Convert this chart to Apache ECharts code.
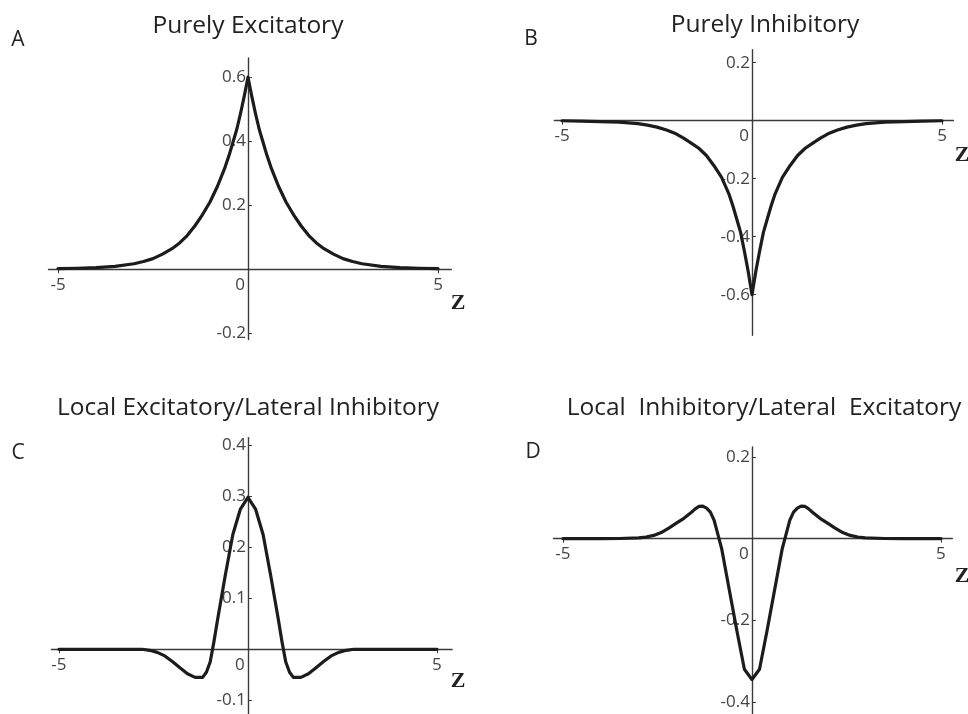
<!DOCTYPE html>
<html><head><meta charset="utf-8">
<script src="https://cdn.jsdelivr.net/npm/echarts@6/dist/echarts.min.js"></script>
<style>html,body{margin:0;padding:0;background:#fff}#c{width:968px;height:714px}</style>
</head><body><div id="c"></div>
<script>
// ---- Data ----
const xA = [-5,-4.5,-4,-3.5,-3,-2.75,-2.5,-2.25,-2,-1.8,-1.6,-1.4,-1.2,-1,-0.8,-0.6,-0.5,-0.4,-0.3,-0.2,-0.1,0,0.1,0.2,0.3,0.4,0.5,0.6,0.8,1,1.2,1.4,1.6,1.8,2,2.25,2.5,2.75,3,3.5,4,4.5,5];
const yA = [0.002,0.003,0.005,0.009,0.017,0.024,0.033,0.047,0.064,0.082,0.105,0.135,0.17,0.21,0.26,0.32,0.355,0.395,0.435,0.485,0.54,0.6,0.54,0.485,0.435,0.395,0.355,0.32,0.26,0.21,0.17,0.135,0.105,0.082,0.064,0.047,0.033,0.024,0.017,0.009,0.005,0.003,0.002];

const xB = [-5,-4.5,-4,-3.5,-3,-2.75,-2.5,-2.25,-2,-1.8,-1.6,-1.4,-1.2,-1,-0.8,-0.6,-0.5,-0.4,-0.3,-0.2,-0.1,0,0.1,0.2,0.3,0.4,0.5,0.6,0.8,1,1.2,1.4,1.6,1.8,2,2.25,2.5,2.75,3,3.5,4,4.5,5];
const yB = [0,-0.001,-0.003,-0.005,-0.01,-0.015,-0.022,-0.032,-0.045,-0.06,-0.077,-0.095,-0.12,-0.155,-0.195,-0.255,-0.295,-0.34,-0.385,-0.45,-0.52,-0.6,-0.52,-0.45,-0.385,-0.34,-0.295,-0.255,-0.195,-0.155,-0.12,-0.095,-0.077,-0.06,-0.045,-0.032,-0.022,-0.015,-0.01,-0.005,-0.003,-0.001,0];

const xC = [-5,-4,-3,-2.8,-2.6,-2.4,-2.2,-2,-1.8,-1.6,-1.4,-1.2,-1.1,-1,-0.9,-0.8,-0.6,-0.4,-0.2,0,0.2,0.4,0.6,0.8,0.9,1,1.1,1.2,1.4,1.6,1.8,2,2.2,2.4,2.6,2.8,3,4,5];
const yC = [0,0,0,0,-0.002,-0.006,-0.013,-0.024,-0.036,-0.048,-0.055,-0.055,-0.045,-0.025,0.015,0.06,0.145,0.225,0.275,0.298,0.275,0.225,0.145,0.06,0.015,-0.025,-0.045,-0.055,-0.055,-0.048,-0.036,-0.024,-0.013,-0.006,-0.002,0,0,0,0];

const xD = [-5,-4,-3.5,-3,-2.8,-2.6,-2.4,-2.2,-2,-1.8,-1.6,-1.5,-1.4,-1.3,-1.2,-1.1,-1,-0.9,-0.8,-0.6,-0.4,-0.2,0,0.2,0.4,0.6,0.8,0.9,1,1.1,1.2,1.3,1.4,1.5,1.6,1.8,2,2.2,2.4,2.6,2.8,3,3.5,4,5];
const yD = [0,0,0.0005,0.002,0.004,0.008,0.015,0.026,0.038,0.05,0.065,0.073,0.079,0.08,0.075,0.065,0.045,0.01,-0.025,-0.125,-0.225,-0.32,-0.345,-0.32,-0.225,-0.125,-0.025,0.01,0.045,0.065,0.075,0.08,0.079,0.073,0.065,0.05,0.038,0.026,0.015,0.008,0.004,0.002,0.0005,0,0];

const xTicks = [-5, 0, 5];
const yTicksA = [-0.2, 0.2, 0.4, 0.6];
const yTicksB = [0.2, -0.2, -0.4, -0.6];
const yTicksC = [-0.1, 0.1, 0.2, 0.3, 0.4];
const yTicksD = [0.2, -0.2, -0.4];

const titles = ['Purely Excitatory', 'Purely Inhibitory', 'Local Excitatory/Lateral Inhibitory', 'Local  Inhibitory/Lateral  Excitatory'];
const letters = ['A', 'B', 'C', 'D'];
const axisName = 'Z';

// ---- Layout ----
const FONT = '"Open Sans", sans-serif';
const AX = '#3a3a3a';
const LBL = '#444';
const panels = [
  {x: xA, y: yA, yt: yTicksA, xmin: -5.25, xmax: 5.35, ymin: -0.22, ymax: 0.66, grid: {left: 48.5, top: 58, width: 402.8, height: 281.6}},
  {x: xB, y: yB, yt: yTicksB, xmin: -5.2, xmax: 5.3, ymin: -0.74, ymax: 0.245, grid: {left: 554.4, top: 49.7, width: 399, height: 285.6}},
  {x: xC, y: yC, yt: yTicksC, xmin: -5.2, xmax: 5.4, ymin: -0.13, ymax: 0.415, grid: {left: 51.4, top: 437.6, width: 400.7, height: 278}},
  {x: xD, y: yD, yt: yTicksD, xmin: -5.25, xmax: 5.3, ymin: -0.43, ymax: 0.225, grid: {left: 553.5, top: 446.9, width: 398.8, height: 267.2}}
];
// offsets that put each axis on the other axis' zero
panels.forEach(p => {
  const g = p.grid;
  p.yOff = -(-p.xmin) * g.width / (p.xmax - p.xmin);
  p.xOff = -(-p.ymin) * g.height / (p.ymax - p.ymin);
});

const fmt = v => String(Math.round(v * 10) / 10);
const option = {
  animation: false,
  backgroundColor: '#fff',
  grid: panels.map(p => Object.assign({outerBoundsMode: 'none', containLabel: false}, p.grid)),
  xAxis: panels.map((p, i) => ({
    type: 'value', gridIndex: i, min: p.xmin, max: p.xmax,
    position: 'bottom', offset: p.xOff,
    splitLine: {show: false},
    axisLine: {onZero: false, lineStyle: {color: AX, width: 1.4}},
    axisTick: {show: true, customValues: [-5, 5], length: 4, lineStyle: {color: AX}},
    axisLabel: {
      customValues: xTicks, margin: 7, color: LBL, fontFamily: FONT, fontSize: 17,
      formatter: v => (v === 0 ? '{z|0}' : fmt(v)),
      rich: {z: {padding: [0, 16, 0, 0], color: LBL, fontFamily: FONT, fontSize: 17}}
    }
  })),
  yAxis: panels.map((p, i) => ({
    type: 'value', gridIndex: i, min: p.ymin, max: p.ymax,
    position: 'left', offset: p.yOff,
    splitLine: {show: false},
    axisLine: {onZero: false, lineStyle: {color: AX, width: 1.4}},
    axisTick: {show: true, inside: true, customValues: p.yt, length: 4, lineStyle: {color: AX}},
    axisLabel: {customValues: p.yt, margin: 2, color: LBL, fontFamily: FONT, fontSize: 17, formatter: fmt}
  })),
  series: panels.map((p, i) => ({
    type: 'line', xAxisIndex: i, yAxisIndex: i,
    data: p.x.map((xv, k) => [xv, p.y[k]]),
    showSymbol: false, smooth: false,
    lineStyle: {color: '#1c1c1c', width: 3.2, join: 'round', cap: 'round'}
  })),
  graphic: [
    {type: 'text', x: 248, y: 26, style: {text: titles[0], font: '24.5px ' + FONT, fill: '#222', align: 'center', verticalAlign: 'middle'}},
    {type: 'text', x: 765, y: 25, style: {text: titles[1], font: '24.5px ' + FONT, fill: '#222', align: 'center', verticalAlign: 'middle'}},
    {type: 'text', x: 248, y: 408, style: {text: titles[2], font: '24.5px ' + FONT, fill: '#222', align: 'center', verticalAlign: 'middle'}},
    {type: 'text', x: 764, y: 408, style: {text: titles[3], font: '24.5px ' + FONT, fill: '#222', align: 'center', verticalAlign: 'middle', whiteSpace: 'pre'}},
    {type: 'text', x: 18, y: 40, style: {text: letters[0], font: '21px ' + FONT, fill: '#222', align: 'center', verticalAlign: 'middle'}},
    {type: 'text', x: 531, y: 39, style: {text: letters[1], font: '21px ' + FONT, fill: '#222', align: 'center', verticalAlign: 'middle'}},
    {type: 'text', x: 18, y: 453, style: {text: letters[2], font: '21px ' + FONT, fill: '#222', align: 'center', verticalAlign: 'middle'}},
    {type: 'text', x: 533, y: 452, style: {text: letters[3], font: '21px ' + FONT, fill: '#222', align: 'center', verticalAlign: 'middle'}},
    {type: 'text', x: 458, y: 303, style: {text: axisName, font: 'bold 22px "Liberation Serif", serif', fill: '#222', align: 'center', verticalAlign: 'middle'}},
    {type: 'text', x: 962, y: 155, style: {text: axisName, font: 'bold 22px "Liberation Serif", serif', fill: '#222', align: 'center', verticalAlign: 'middle'}},
    {type: 'text', x: 458, y: 681, style: {text: axisName, font: 'bold 22px "Liberation Serif", serif', fill: '#222', align: 'center', verticalAlign: 'middle'}},
    {type: 'text', x: 962, y: 576, style: {text: axisName, font: 'bold 22px "Liberation Serif", serif', fill: '#222', align: 'center', verticalAlign: 'middle'}}
  ]
};
const chart = echarts.init(document.getElementById('c'), null, {renderer: 'canvas'});
chart.setOption(option);
</script>
</body></html>
